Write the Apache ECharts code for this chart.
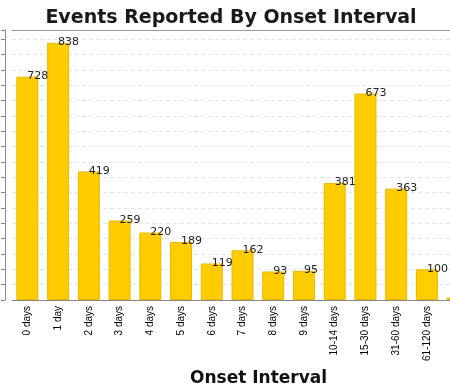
<!DOCTYPE html>
<html>
<head>
<meta charset="utf-8">
<script src="https://cdn.jsdelivr.net/npm/echarts@6/dist/echarts.min.js"></script>
<style>html,body{margin:0;padding:0;background:#fff}#c{width:450px;height:390px}</style>
</head>
<body>
<div id="c"></div>
<script>
var categories = ['0 days','1 day','2 days','3 days','4 days','5 days','6 days','7 days','8 days','9 days','10-14 days','15-30 days','31-60 days','61-120 days','>120 days'];
var eventCounts = [728, 838, 419, 259, 220, 189, 119, 162, 93, 95, 381, 673, 363, 100, 8];
var titleText = 'Events Reported By Onset Interval';
var xAxisName = 'Onset Interval';

var chart = echarts.init(document.getElementById('c'));
chart.setOption({
  animation: false,
  backgroundColor: '#fff',
  title: {
    text: titleText,
    left: 226, top: 4, textAlign: 'center',
    textStyle: { fontFamily: 'DejaVu Sans', fontSize: 19, fontWeight: 'bold', color: '#1a1a1a' }
  },
  grid: { left: 12, right: -23, top: 30, bottom: 90, containLabel: false, outerBoundsMode: 'none' },
  xAxis: [{
    type: 'category',
    data: categories,
    position: 'bottom',
    name: xAxisName,
    nameLocation: 'middle',
    nameGap: 70,
    nameTextStyle: { fontFamily: 'DejaVu Sans', fontSize: 17, fontWeight: 'bold', color: '#111', padding: [0, 0, 0, 32] },
    axisLine: { show: true, lineStyle: { color: '#888', width: 1 } },
    axisTick: { show: false },
    axisLabel: { rotate: 90, interval: 0, fontFamily: 'Liberation Sans', fontSize: 10, color: '#000', margin: 6 }
  }, {
    type: 'category',
    data: categories,
    position: 'top',
    axisLine: { show: true, lineStyle: { color: '#999', width: 1 } },
    axisTick: { show: false },
    axisLabel: { show: false }
  }],
  yAxis: {
    type: 'value',
    min: 0, max: 880, interval: 50,
    offset: 7,
    axisLine: { show: true, lineStyle: { color: '#888', width: 1 } },
    axisTick: { show: true, inside: false, length: 4, lineStyle: { color: '#888' } },
    axisLabel: { show: false },
    splitLine: { show: true, lineStyle: { color: '#e4e4e4', type: [4, 3], width: 1 } }
  },
  series: [{
    type: 'bar',
    data: eventCounts,
    barWidth: 22,
    itemStyle: { color: '#FFCC00', borderColor: '#E8B800', borderWidth: 1 },
    label: {
      show: true, position: 'top', distance: 0, align: 'left', offset: [0, 5],
      fontFamily: 'DejaVu Sans', fontSize: 11, color: '#222'
    }
  }]
});
</script>
</body>
</html>
